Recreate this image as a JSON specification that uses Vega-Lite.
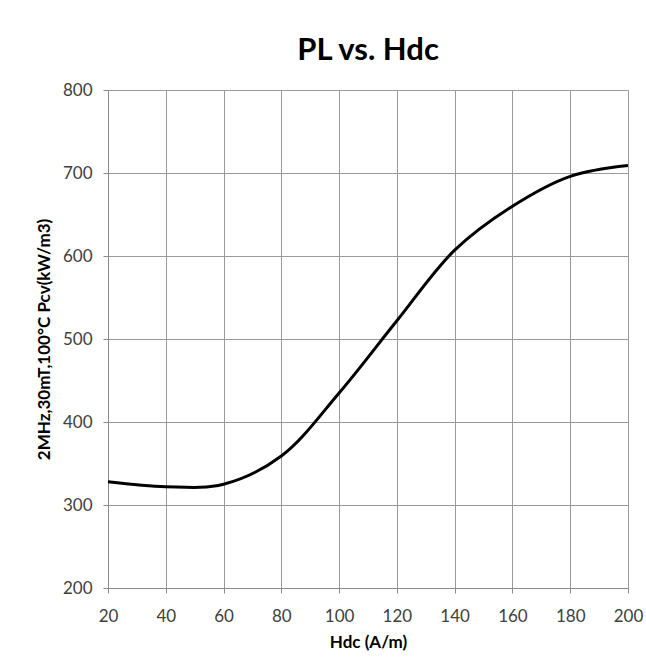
{
  "$schema": "https://vega.github.io/schema/vega-lite/v6.json",
  "width": 520,
  "height": 498,
  "autosize": {"type": "none"},
  "padding": {"left": 108, "top": 90, "right": 18, "bottom": 72},
  "background": "white",
  "title": {
    "text": "PL vs. Hdc",
    "fontSize": 31,
    "font": "Lato",
    "fontWeight": "bold",
    "color": "#000000",
    "anchor": "middle",
    "baseline": "alphabetic",
    "offset": 32,
    "dy": 42
  },
  "config": {
    "view": {"stroke": null},
    "axis": {
      "labelFont": "Lato",
      "titleFont": "Lato",
      "labelFontSize": 17,
      "labelColor": "#404040",
      "titleFontSize": 17,
      "titleFontWeight": "bold",
      "titleColor": "#000000",
      "gridColor": "#9a9a9a",
      "gridWidth": 1,
      "domainColor": "#8a8a8a",
      "tickColor": "#8a8a8a",
      "tickSize": 5
    }
  },
  "data": {
    "values": [
      {"hdc": 20, "pcv": 328},
      {"hdc": 40, "pcv": 322},
      {"hdc": 60, "pcv": 325},
      {"hdc": 80, "pcv": 359},
      {"hdc": 100, "pcv": 435},
      {"hdc": 120, "pcv": 522},
      {"hdc": 140, "pcv": 607},
      {"hdc": 160, "pcv": 660},
      {"hdc": 180, "pcv": 696},
      {"hdc": 200, "pcv": 709}
    ]
  },
  "mark": {"type": "line", "color": "#000000", "strokeWidth": 3, "interpolate": "catmull-rom"},
  "encoding": {
    "x": {
      "field": "hdc",
      "type": "quantitative",
      "scale": {"domain": [20, 200], "nice": false, "zero": false},
      "axis": {
        "title": "Hdc (A/m)",
        "values": [20, 40, 60, 80, 100, 120, 140, 160, 180, 200],
        "labelPadding": 15,
        "titlePadding": 10,
        "labelFlush": false
      }
    },
    "y": {
      "field": "pcv",
      "type": "quantitative",
      "scale": {"domain": [200, 800], "nice": false, "zero": false},
      "axis": {
        "title": "2MHz,30mT,100°C Pcv(kW/m3)",
        "values": [200, 300, 400, 500, 600, 700, 800],
        "labelPadding": 11,
        "titleX": -64,
        "titleY": 249,
        "titleAngle": 270,
        "titleAlign": "center",
        "titleBaseline": "middle",
        "titleFontSize": 17,
        "labelFlush": false
      }
    }
  }
}
